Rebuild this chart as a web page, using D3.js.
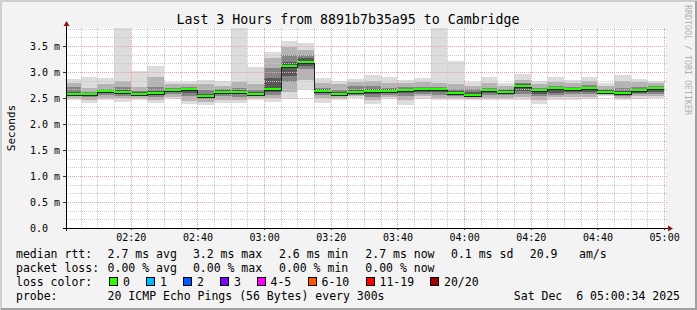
<!DOCTYPE html>
<html>
<head>
<meta charset="utf-8">
<script src="https://cdn.jsdelivr.net/npm/d3@7"></script>
<style>
  html, body { margin: 0; padding: 0; background: #f3f3f3; }
  svg { display: block; font-family: "DejaVu Sans Mono", monospace; }
</style>
</head>
<body>
<svg id="chart" width="697" height="310"></svg>
<script>
// end time of each 5 minute step
const stepEnds = ['02:05','02:10','02:15','02:20','02:25','02:30','02:35','02:40','02:45','02:50','02:55','03:00',
  '03:05','03:10','03:15','03:20','03:25','03:30','03:35','03:40','03:45','03:50','03:55','04:00',
  '04:05','04:10','04:15','04:20','04:25','04:30','04:35','04:40','04:45','04:50','04:55','05:00'];

// round trip times in ms
const rttMedian = [2.57,2.57,2.64,2.62,2.58,2.60,2.65,2.68,2.54,2.62,2.62,2.58,
  2.68,3.115,3.19,2.64,2.58,2.61,2.64,2.64,2.65,2.68,2.68,2.60,
  2.56,2.65,2.62,2.73,2.65,2.70,2.67,2.69,2.62,2.60,2.65,2.70];
const rttMin = [2.46,2.40,2.46,2.43,2.46,2.41,2.48,2.38,2.37,2.41,2.40,2.46,
  2.43,2.49,2.65,2.41,2.46,2.50,2.38,2.49,2.37,2.49,2.46,2.46,
  2.46,2.46,2.46,2.46,2.38,2.47,2.47,2.48,2.53,2.47,2.49,2.50];
const rttMax = [2.87,2.90,2.88,3.90,3.02,3.12,2.81,2.81,2.85,2.83,3.90,3.09,
  3.39,3.60,3.56,2.89,2.83,2.86,2.94,2.90,2.85,2.89,3.90,3.21,
  2.81,2.90,2.79,2.96,2.83,2.90,2.85,2.90,2.78,2.94,2.87,2.83];
const outerLo = [2.50,2.47,2.50,2.50,2.50,2.47,2.52,2.45,2.42,2.47,2.46,2.50,
  2.50,2.62,2.85,2.50,2.50,2.53,2.46,2.52,2.46,2.53,2.50,2.50,
  2.48,2.50,2.50,2.52,2.46,2.52,2.52,2.52,2.55,2.50,2.53,2.54];
const outerHi = [2.79,2.70,2.76,2.82,2.72,2.90,2.76,2.76,2.76,2.74,2.80,2.76,
  3.26,3.49,3.42,2.78,2.76,2.80,2.82,2.78,2.78,2.80,2.78,2.76,
  2.74,2.78,2.74,2.84,2.76,2.80,2.78,2.82,2.74,2.82,2.80,2.78];
const midLo = [2.53,2.52,2.55,2.54,2.54,2.52,2.58,2.53,2.48,2.53,2.52,2.54,
  2.56,2.80,3.05,2.56,2.53,2.56,2.52,2.56,2.53,2.58,2.56,2.54,
  2.51,2.55,2.55,2.58,2.53,2.56,2.57,2.57,2.58,2.54,2.57,2.58];
const midHi = [2.71,2.62,2.68,2.72,2.64,2.72,2.70,2.72,2.66,2.68,2.70,2.66,
  3.07,3.33,3.33,2.70,2.66,2.74,2.73,2.70,2.72,2.72,2.72,2.68,
  2.68,2.70,2.68,2.78,2.70,2.74,2.72,2.75,2.68,2.70,2.72,2.74];
const coreLo = [2.55,2.54,2.59,2.58,2.56,2.56,2.61,2.60,2.51,2.58,2.57,2.56,
  2.62,2.92,3.12,2.60,2.55,2.58,2.58,2.59,2.59,2.62,2.62,2.57,
  2.53,2.59,2.58,2.63,2.58,2.60,2.61,2.62,2.60,2.57,2.60,2.62];
const coreHi = [2.62,2.60,2.66,2.66,2.61,2.64,2.67,2.70,2.58,2.65,2.66,2.62,
  2.88,3.20,3.27,2.67,2.62,2.66,2.68,2.67,2.68,2.70,2.70,2.64,
  2.62,2.67,2.65,2.76,2.67,2.71,2.69,2.70,2.65,2.64,2.68,2.71];

const yTickValues = [0, 0.5, 1.0, 1.5, 2.0, 2.5, 3.0, 3.5];
const lossLabels = ['0', '1', '2', '3', '4-5', '6-10', '11-19', '20/20'];
const lossColors = ['#26ff00', '#00b8ff', '#0059ff', '#7e00ff', '#ff00ff', '#ff5500', '#ff0000', '#a10000'];

const svg = d3.select('#chart');
const W = 697, H = 310;
const pL = 66, pR = 666, pT = 28, pB = 228;

const parseHM = d3.timeParse('%H:%M');
const parseHMS = d3.timeParse('%H:%M:%S');
const x = d3.scaleTime()
  .domain([parseHMS('02:00:34'), parseHMS('05:00:34')])
  .range([pL, pR]);
const y = d3.scaleLinear()
  .domain([0, (pB - pT) / 52])
  .range([pB, pT]);

// frame
svg.append('rect').attr('width', W).attr('height', H).attr('fill', '#f3f3f3');
svg.append('path').attr('d', `M1,${H} V1 H${W}`).attr('fill', 'none').attr('stroke', '#cfcfcf').attr('stroke-width', 2);
svg.append('path').attr('d', `M1,${H - 1} H${W - 1} V1`).attr('fill', 'none').attr('stroke', '#a0a0a0').attr('stroke-width', 2);

// canvas
svg.append('rect')
  .attr('x', pL).attr('y', pT)
  .attr('width', pR - pL).attr('height', pB - pT)
  .attr('fill', '#ffffff');

svg.append('clipPath').attr('id', 'plot')
  .append('rect').attr('x', pL).attr('y', pT).attr('width', pR - pL).attr('height', pB - pT);

const steps = stepEnds.map((t, i) => {
  const end = parseHM(t);
  const start = d3.timeMinute.offset(end, -5);
  return {
    x0: Math.max(pL, Math.round(x(start))),
    x1: Math.round(x(end)),
    i: i
  };
});

// smoke
const smoke = svg.append('g').attr('clip-path', 'url(#plot)');
const bands = [
  { lo: rttMin, hi: rttMax, color: '#dcdcdc' },
  { lo: outerLo, hi: outerHi, color: '#b4b4b4' },
  { lo: midLo, hi: midHi, color: '#858585' },
  { lo: coreLo, hi: coreHi, color: '#585858' }
];
bands.forEach(b => {
  smoke.append('g').selectAll('rect')
    .data(steps)
    .enter().append('rect')
    .attr('x', d => d.x0)
    .attr('width', d => d.x1 - d.x0)
    .attr('y', d => Math.round(y(b.hi[d.i])))
    .attr('height', d => Math.round(y(b.lo[d.i])) - Math.round(y(b.hi[d.i])))
    .attr('fill', b.color)
    .attr('shape-rendering', 'crispEdges');
});

// grid
const grid = svg.append('g').attr('shape-rendering', 'crispEdges');
const minorY = d3.range(1, 24).map(k => k / 6).filter(v => Math.abs(v * 2 - Math.round(v * 2)) > 1e-6);
grid.selectAll('.hmin').data(minorY).enter().append('line')
  .attr('x1', pL).attr('x2', pR + 2)
  .attr('y1', d => Math.round(y(d)) + 0.5).attr('y2', d => Math.round(y(d)) + 0.5)
  .attr('stroke', '#c8c8c8').attr('stroke-dasharray', '1,1');
const minorX = x.ticks(d3.timeMinute.every(5)).filter(t => t.getMinutes() % 20 !== 0);
grid.selectAll('.vmin').data(minorX).enter().append('line')
  .attr('x1', d => Math.round(x(d)) + 0.5).attr('x2', d => Math.round(x(d)) + 0.5)
  .attr('y1', pT).attr('y2', pB)
  .attr('stroke', '#c8c8c8').attr('stroke-dasharray', '1,1');
grid.selectAll('.hmaj').data(yTickValues.slice(1)).enter().append('line')
  .attr('x1', pL).attr('x2', pR + 2)
  .attr('y1', d => Math.round(y(d)) + 0.5).attr('y2', d => Math.round(y(d)) + 0.5)
  .attr('stroke', '#f3a0a0').attr('stroke-dasharray', '1,1');
const majorX = x.ticks(d3.timeMinute.every(20));
grid.selectAll('.vmaj').data(majorX).enter().append('line')
  .attr('x1', d => Math.round(x(d)) + 0.5).attr('x2', d => Math.round(x(d)) + 0.5)
  .attr('y1', pT).attr('y2', pB)
  .attr('stroke', '#f3a0a0').attr('stroke-dasharray', '1,1');

// median: thin dark step line plus green loss band
const medPts = [];
steps.forEach(d => {
  const yy = Math.round(y(rttMedian[d.i])) + 1.5;
  medPts.push([d.x0, yy], [d.x1, yy]);
});
svg.append('path')
  .attr('d', d3.line()(medPts))
  .attr('fill', 'none')
  .attr('stroke', '#202020')
  .attr('stroke-width', 1)
  .attr('shape-rendering', 'crispEdges');
svg.append('g').selectAll('rect')
  .data(steps)
  .enter().append('rect')
  .attr('x', d => d.x0)
  .attr('width', d => d.x1 - d.x0)
  .attr('y', d => Math.round(y(rttMedian[d.i])) - 1)
  .attr('height', 2)
  .attr('fill', lossColors[0])
  .attr('shape-rendering', 'crispEdges');

// axes
const xAxis = d3.axisBottom(x)
  .ticks(d3.timeMinute.every(20))
  .tickFormat(d3.timeFormat('%H:%M'))
  .tickSizeInner(2).tickSizeOuter(0).tickPadding(4);
const gx = svg.append('g').attr('transform', `translate(0,${pB})`).call(xAxis);
gx.select('.domain').remove();
gx.selectAll('line').attr('stroke', '#333');
gx.selectAll('text').attr('font-size', 10).attr('font-family', '"DejaVu Sans Mono", monospace').attr('fill', '#000');

const yAxis = d3.axisLeft(y)
  .tickValues(yTickValues)
  .tickFormat(d => d === 0 ? '0.0' : d3.format('.1f')(d) + ' m')
  .tickSizeInner(3).tickSizeOuter(0);
const gy = svg.append('g').attr('transform', `translate(${pL},0)`).call(yAxis);
gy.select('.domain').remove();
gy.selectAll('line').attr('stroke', '#333');
gy.selectAll('text')
  .attr('text-anchor', 'start').attr('x', 30 - pL).attr('dy', '0.36em')
  .attr('font-size', 10).attr('font-family', '"DejaVu Sans Mono", monospace').attr('fill', '#000');

svg.append('line').attr('x1', pL - 3).attr('x2', pR + 3)
  .attr('y1', pB + 0.5).attr('y2', pB + 0.5).attr('stroke', '#000');
svg.append('line').attr('x1', pL + 0.5).attr('x2', pL + 0.5)
  .attr('y1', pB + 3).attr('y2', pT - 3).attr('stroke', '#000');
svg.append('path').attr('d', `M${pL - 2.5},${pT - 2} L${pL + 3.5},${pT - 2} L${pL + 0.5},${pT - 7} Z`).attr('fill', '#8b1a1a');
svg.append('path').attr('d', `M${pR + 2},${pB - 2.5} L${pR + 2},${pB + 3.5} L${pR + 7},${pB + 0.5} Z`).attr('fill', '#8b1a1a');

// titles
svg.append('text').attr('x', 348).attr('y', 23.5).attr('text-anchor', 'middle')
  .attr('font-size', 13.25).text('Last 3 Hours from 8891b7b35a95 to Cambridge');
svg.append('text').attr('transform', `translate(14.5,${(pT + pB) / 2}) rotate(-90)`)
  .attr('text-anchor', 'middle').attr('font-size', 11).text('Seconds');
svg.append('text').attr('transform', 'translate(684.5,5) rotate(90)')
  .attr('font-size', 8.3).attr('fill', '#b0b0b0').text('RRDTOOL / TOBI OETIKER');

// legend
const legendRows = [
  { y: 258, items: [[16, 'median rtt:'], [107.6, '2.7 ms avg'], [192.9, '3.2 ms max'], [279, '2.6 ms min'],
    [365.3, '2.7 ms now'], [451, '0.1 ms sd'], [529.8, '20.9'], [579, 'am/s']] },
  { y: 272, items: [[16, 'packet loss:'], [107.6, '0.00 % avg'], [192.9, '0.00 % max'], [279, '0.00 % min'], [365.3, '0.00 % now']] },
  { y: 286, items: [[16, 'loss color:']] },
  { y: 300, items: [[16, 'probe:'], [107.6, '20 ICMP Echo Pings (56 Bytes) every 300s']] }
];
const legend = svg.append('g').attr('font-size', 11.5).attr('fill', '#000');
legendRows.forEach(r => {
  legend.selectAll(null).data(r.items).enter().append('text')
    .attr('x', d => d[0]).attr('y', r.y)
    .style('white-space', 'pre')
    .text(d => d[1]);
});
legend.append('text').attr('x', 680).attr('y', 300).attr('text-anchor', 'end')
  .style('white-space', 'pre').text('Sat Dec  6 05:00:34 2025');

const boxX = [109, 146, 183, 220, 256.5, 307.5, 365.5, 430];
const lossLegend = legend.append('g').selectAll('g')
  .data(lossLabels)
  .enter().append('g')
  .attr('transform', (d, i) => `translate(${boxX[i]},0)`);
lossLegend.append('rect')
  .attr('x', 0.5).attr('y', 277.5).attr('width', 8).attr('height', 8)
  .attr('fill', (d, i) => lossColors[i]).attr('stroke', '#000')
  .attr('shape-rendering', 'crispEdges');
lossLegend.append('text').attr('x', 14).attr('y', 286).text(d => d);
</script>
</body>
</html>
